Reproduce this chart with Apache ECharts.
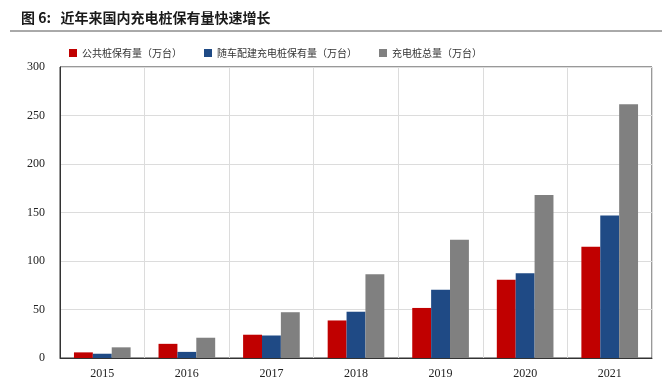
<!DOCTYPE html>
<html><head><meta charset="utf-8">
<script src="https://cdn.jsdelivr.net/npm/echarts@6/dist/echarts.min.js"></script>
<style>html,body{margin:0;padding:0;background:#fff}#c{width:662px;height:382px}</style>
</head><body><div id="c"></div>
<script>
const categories = ['2015','2016','2017','2018','2019','2020','2021'];
const publicPiles = [5.8, 14.6, 24.0, 38.7, 51.6, 80.7, 114.7];
const privatePiles = [4.4, 6.3, 23.2, 47.7, 70.3, 87.4, 147.0];
const totalPiles = [11.0, 20.9, 47.2, 86.4, 121.9, 168.1, 261.7];
const seriesNames = ['公共桩保有量（万台）', '随车配建充电桩保有量（万台）', '充电桩总量（万台）'];
const yTicks = [0, 50, 100, 150, 200, 250, 300];

const chart = echarts.init(document.getElementById('c'), null, {renderer: 'canvas'});
const serif = '"Liberation Serif", "Times New Roman", serif';
const cjk = '"Noto Sans CJK SC", sans-serif';
chart.setOption({
  animation: false,
  backgroundColor: '#fff',
  title: {
    text: '图 6:   近年来国内充电桩保有量快速增长',
    left: 16, top: 6,
    textStyle: {fontFamily: cjk, fontSize: 14, fontWeight: 'bold', color: '#1a1a1a'}
  },
  graphic: [{
    type: 'line', shape: {x1: 10, y1: 31, x2: 662, y2: 31},
    style: {stroke: '#555', lineWidth: 1}
  }],
  legend: {
    left: 64, top: 43,
    itemWidth: 8, itemHeight: 8, itemGap: 22,
    icon: 'rect',
    textStyle: {fontFamily: cjk, fontSize: 10, color: '#333'},
    data: seriesNames
  },
  grid: {left: 60, right: 10, top: 67, bottom: 24, show: true, borderColor: '#333', borderWidth: 1},
  xAxis: {
    type: 'category', data: categories,
    axisLine: {lineStyle: {color: '#333'}},
    axisTick: {show: false},
    splitLine: {show: true, lineStyle: {color: '#dcdcdc'}},
    axisLabel: {fontFamily: serif, fontSize: 12, color: '#222', margin: 10}
  },
  yAxis: {
    type: 'value', min: yTicks[0], max: yTicks[yTicks.length-1], interval: 50,
    axisLine: {show: true, lineStyle: {color: '#333'}},
    axisTick: {show: false},
    splitLine: {lineStyle: {color: '#dcdcdc'}},
    axisLabel: {fontFamily: serif, fontSize: 12, color: '#222', margin: 15}
  },
  series: [
    {name: seriesNames[0], type: 'bar', data: publicPiles, itemStyle: {color: '#C00000'}, barGap: '0%', barCategoryGap: '33%'},
    {name: seriesNames[1], type: 'bar', data: privatePiles, itemStyle: {color: '#1F4A85'}, barGap: '0%', barCategoryGap: '33%'},
    {name: seriesNames[2], type: 'bar', data: totalPiles, itemStyle: {color: '#808080'}, barGap: '0%', barCategoryGap: '33%'}
  ]
});
</script></body></html>
